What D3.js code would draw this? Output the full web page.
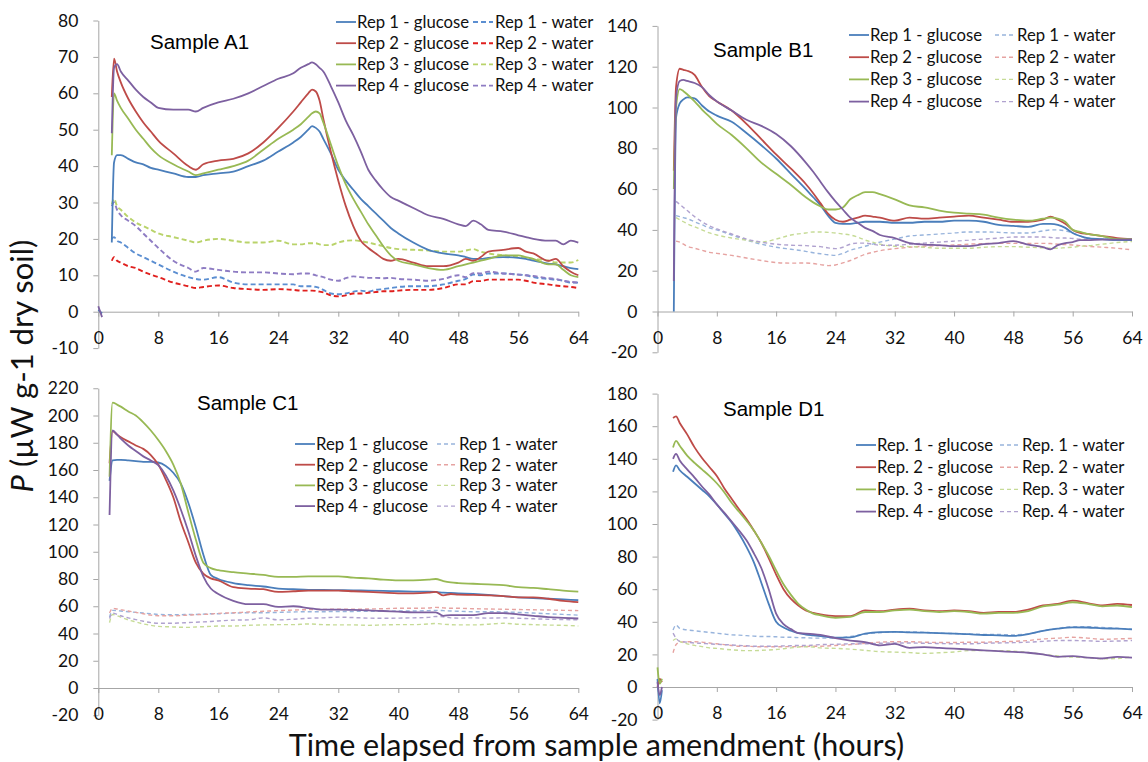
<!DOCTYPE html>
<html>
<head>
<meta charset="utf-8">
<script src="https://cdn.jsdelivr.net/npm/d3@7"></script>
<style>
  body { margin: 0; background: #fff; }
  svg { display: block; }
  .axis .domain, .axis .tick line { stroke: #a6a6a6; stroke-width: 1; }
  .axis .tick text { fill: #111; font-family: Lato, "Open Sans", sans-serif; font-size: 17.5px; }
</style>
</head>
<body>
<svg id="chart" width="1148" height="762"></svg>
<script>
// Heat output (µW per g dry soil) of four replicate soil samples after glucose or water amendment.

const hourTicks = [0, 8, 16, 24, 32, 40, 48, 56, 64];
const ticksA = [-10, 0, 10, 20, 30, 40, 50, 60, 70, 80];
const ticksB = [-20, 0, 20, 40, 60, 80, 100, 120, 140];
const ticksC = [-20, 0, 20, 40, 60, 80, 100, 120, 140, 160, 180, 200, 220];
const ticksD = [-20, 0, 20, 40, 60, 80, 100, 120, 140, 160, 180];

const repLabels = ["Rep 1", "Rep 2", "Rep 3", "Rep 4"];
const repLabelsD = ["Rep. 1", "Rep. 2", "Rep. 3", "Rep. 4"];

// ---- Sample A1 ----
const hoursA = [0, 0.5, 1, 1.8, 2.1, 2.5, 3, 4, 5, 6, 7, 8, 10, 12, 13, 14, 16, 18, 20, 22, 24, 26, 27, 28, 28.5, 29, 29.5, 30, 31, 32, 33, 34, 35, 36, 37, 38, 39, 40, 42, 44, 46, 48, 49, 50, 51, 52, 54, 56, 57, 58, 60, 61, 62, 63, 64];
const a1Glucose1 = [0.5, -0.5, null, 19, 41, 43, 43, 42, 41, 40.5, 39.5, 39, 38, 37, 37, 37.5, 38, 38.5, 40, 41.5, 44, 46.5, 48, 50, 51, 50.5, 49.5, 47.5, 43.5, 39, 36, 33.5, 31, 29, 27, 25, 23, 21.5, 19, 17, 16, 15.5, 15, 14.5, 14.5, 14.8, 15, 14.8, 14.5, 14, 13.2, 13, 12.5, 12, 11.7];
const a1Glucose2 = [null, null, null, 59, 69.5, 66, 63, 58.5, 55, 52, 49.5, 47, 43.5, 40, 39, 40.5, 41.5, 42, 43.5, 46.5, 50.5, 55, 57.5, 60, 61, 60.5, 58, 53, 44, 36, 29, 23.5, 19.5, 17.5, 16, 14.5, 14, 14.5, 13.5, 12.5, 12.5, 13.5, 14.5, 14, 15, 16.5, 17, 17.5, 16.5, 16, 14, 14.5, 12.5, 11, 10];
const a1Glucose3 = [null, null, null, 43, 60, 58, 56, 53, 50, 47.5, 45, 43, 40.5, 38.5, 37.5, 38, 39, 40, 41.5, 44.5, 47.5, 50, 51.5, 53.5, 54.5, 55, 54.5, 52, 46, 40, 35, 31, 27.5, 24, 21, 18, 15.5, 14, 13, 12, 11.5, 12.5, 13, 13.5, 14, 14.5, 15.5, 15.5, 15, 14.5, 13, 13, 11.5, 10, 9.5];
const a1Glucose4 = [1.5, -1.5, null, 49, 67, 68, 66, 63.5, 61, 59, 57.5, 56, 55.5, 55.5, 55, 56, 57.5, 58.5, 60, 62, 64, 65.5, 67, 68, 68.5, 68, 67, 66, 62, 57.5, 52.5, 48.5, 44, 39, 36, 33.5, 31.5, 30.5, 28.5, 26.5, 25.5, 24, 23.5, 25, 24, 22.5, 22, 21, 20.5, 20, 19.5, 19.5, 18.5, 19.5, 19];
const a1Water1 = [null, null, null, 20, 20.5, 19.5, 19, 17.5, 16, 15, 14, 13, 11, 9.5, 9, 8.8, 9.5, 8, 7.5, 7.5, 7.5, 7.5, 7, 7, 7, 6.8, 6.5, 6, 5, 4.8, 5, 5.5, 5.8, 5.5, 6, 6.2, 6.5, 6.8, 7, 7, 7.5, 8.5, 9, 10.2, 10, 10.5, 10.5, 10.2, 10, 9.5, 9, 8.8, 8.5, 8, 8];
const a1Water2 = [null, null, null, 14, 15, 14, 13.5, 12.5, 12, 11, 10.2, 9.5, 8, 7, 6.5, 6.8, 7.2, 6.5, 6.2, 6, 6.2, 6, 5.8, 5.8, 5.8, 5.7, 5.5, 5.3, 4.5, 4.2, 4.5, 5, 5, 5.2, 5.4, 5.6, 5.6, 5.8, 6, 6, 6.5, 7.5, 7.5, 8.4, 8.4, 8.8, 8.8, 8.8, 8.5, 8, 7.5, 7.2, 7, 6.8, 6.5];
const a1Water3 = [null, null, null, 29.5, 31, 29, 28, 26, 24.5, 23.5, 22.5, 21.5, 20.5, 19.5, 19, 19.5, 20, 19.5, 19, 19, 19.5, 18.5, 18.5, 18.8, 18.8, 18.8, 18.5, 18.3, 18.3, 19, 19.5, 19.6, 19.4, 19, 18.5, 18, 17.5, 17.2, 17, 16.8, 16.5, 16.5, 16.8, 17.2, 16.5, 16, 15.5, 15, 14.8, 14.5, 14, 13.5, 13.5, 13.5, 14.2];
const a1Water4 = [null, null, null, 29, 30, 28, 26.5, 25, 23.5, 21.5, 19.5, 17.5, 14, 12, 11, 12, 11.5, 11, 10.8, 10.8, 10.5, 10.3, 10.5, 10.5, 10.3, 10, 9.8, 9.5, 8.8, 8.5, 9.2, 9.7, 9.5, 9.3, 9.3, 9.2, 9.3, 9, 8.8, 8.5, 9, 10, 9.5, 10.6, 10.5, 11, 10.5, 10.2, 10, 9.8, 9.2, 9, 8.5, 8.2, 8];

// ---- Sample B1 ----
const hoursB = [0, 0.5, 1, 2.2, 2.5, 3, 3.5, 4, 5, 6, 7, 8, 10, 12, 14, 16, 18, 20, 21, 22, 23, 24, 25, 26, 27, 28, 29, 30, 32, 34, 36, 38, 40, 42, 44, 46, 48, 50, 52, 53, 54, 55, 56, 57, 58, 60, 62, 64];
const b1Glucose1 = [null, null, null, 0, 95, 102, 104, 105, 104.5, 101, 98, 96, 93, 87.5, 81.5, 75, 67.5, 60, 56, 52, 47, 43.5, 43, 43, 43.5, 44, 44, 44, 43.5, 43.5, 44, 44, 44.5, 44.5, 44, 42.5, 42, 41.5, 43, 43, 42.5, 41, 38.5, 37, 36, 35.5, 35, 35];
const b1Glucose2 = [null, null, null, 69, 110, 119, 118.5, 118, 116, 110, 105.5, 103, 98.5, 92, 84.5, 77, 70, 62.5, 58, 53, 48, 45, 44, 45, 46, 47, 46.5, 46, 44.5, 46, 45.5, 46, 46.5, 47, 46, 45, 44, 44, 45, 46.5, 45, 43, 40, 38.5, 38, 37, 36, 35.5];
const b1Glucose3 = [null, null, null, 60, 100, 109, 108, 106.5, 103, 99, 95.5, 92, 86.5, 80, 73, 67.5, 62, 56, 53.5, 51.5, 50, 50, 51, 55, 57, 58.5, 58.5, 57.5, 55, 52, 51, 49.5, 48.5, 48, 47.5, 46, 45, 44.5, 45.5, 46, 45.5, 44, 40, 39, 38, 37, 35.5, 35.5];
const b1Glucose4 = [null, null, null, 15, 105, 113, 113.5, 113, 112, 110, 106, 103, 98.5, 94, 91, 87, 81, 73, 68.5, 63.5, 58.5, 54, 50, 46, 43.5, 41, 39.5, 37.5, 36, 33.5, 32.8, 32.5, 32, 32, 33, 33.5, 34.5, 32.8, 31.5, 30.5, 32.5, 33.5, 34, 35, 35, 35.2, 35.2, 35.3];
const b1Water1 = [null, null, null, null, 47, 46.5, 46, 45.5, 44, 42.5, 41, 40, 37.5, 35, 33, 31.5, 30.5, 29.5, 28.8, 28.3, 27.8, 27.5, 28.5, 30, 31, 32, 33, 34, 35.5, 37, 37.5, 38, 38.5, 39, 39, 38.8, 38.5, 38.5, 39.5, 40, 40, 39.5, 38.5, 37, 36, 35.5, 35.2, 35];
const b1Water2 = [null, null, null, null, 34.5, 34, 33, 32, 31, 30, 29, 28.5, 27.5, 26.2, 25, 24, 23.7, 23.8, 23.5, 23, 22.5, 22.8, 23.8, 25, 26.5, 28, 29, 29.8, 30.8, 31.5, 32, 32.3, 32.6, 33, 33.3, 33.4, 33.4, 33.4, 33.4, 33.3, 33, 32.8, 32.6, 32.3, 32, 31.5, 31, 30.2];
const b1Water3 = [null, null, null, null, 46, 45, 44, 43, 41.5, 40, 38.5, 37.5, 36, 35, 34, 35.5, 37.5, 38.5, 39, 39, 38.8, 38.5, 38, 37.5, 36.5, 35, 34, 33, 32, 31.8, 31.5, 31, 31, 31, 31.5, 31.8, 31.8, 31.5, 31.2, 31, 31, 31.3, 31.5, 32, 32.2, 33, 33.8, 34.3];
const b1Water4 = [null, null, null, null, 54, 52.5, 51, 49.5, 46.5, 44, 42, 40.5, 38, 35.5, 34, 33, 32.5, 32.3, 32, 31.8, 31.2, 30.8, 31.5, 33, 33.5, 33.5, 33, 32.5, 32.5, 33, 33.5, 34, 34.5, 35, 35.5, 36, 36.5, 36.5, 36.5, 36.3, 36, 36, 35.8, 35.5, 35.5, 35.5, 35.5, 35.5];

// ---- Sample C1 ----
const hoursC = [1.5, 1.9, 2.5, 3, 4, 5, 6, 7, 8, 9, 10, 11, 12, 13, 14, 15, 16, 18, 20, 22, 24, 26, 28, 30, 32, 34, 36, 38, 40, 42, 44, 45, 46, 47, 48, 50, 52, 54, 56, 58, 60, 62, 64];
const c1Glucose1 = [152, 167, 167.5, 167.5, 167, 166.5, 166, 166, 165.5, 163, 158, 150, 136, 118, 98, 83, 80, 77, 75.5, 74.5, 73, 72.5, 72, 72, 71.8, 71.6, 71.5, 71.3, 71, 70.8, 70.7, 70.5, 70, 69.8, 69.5, 69, 68.3, 67.5, 66.5, 66, 65.5, 65, 64.5];
const c1Glucose2 = [165, 188.5, 186, 184, 181, 178, 175.5, 171, 164, 153, 140, 122, 107, 92, 84, 80.5, 79, 74, 73, 72.5, 70.5, 71, 71.5, 71.5, 71.5, 71, 70.5, 70, 69.5, 69.5, 70, 70.5, 68, 69, 68.5, 68.3, 68, 67.5, 66.5, 66.5, 65.5, 64, 63];
const c1Glucose3 = [155, 209.5, 208, 206.5, 203, 200, 195, 189, 182, 174, 164, 150, 129, 109, 92, 88, 86.5, 85, 84, 83, 81.5, 81.5, 82, 82, 82, 81, 80.5, 79.5, 79, 79, 79.5, 80, 78.5, 77.5, 77, 76.5, 76, 75.5, 74, 73.5, 72.5, 71.5, 70.8];
const c1Glucose4 = [127, 189, 186, 183, 178, 174, 170, 167, 163.5, 156, 145, 131, 115, 97, 82, 73, 69, 64, 61.5, 61.5, 59.5, 60, 58.7, 57.5, 57.5, 57.3, 57, 56.5, 56, 55.5, 55.5, 55.5, 53, 53.5, 53.5, 53.5, 55, 55, 54, 53, 52, 51.5, 51];
const c1Water1 = [52, 57, 56.8, 56.5, 56, 55.5, 55, 54.5, 54, 53.8, 53.8, 53.8, 54, 54, 54.2, 54.5, 54.5, 55, 55.2, 55.2, 55.5, 55.8, 56, 56, 56.2, 56.2, 56.3, 56.3, 56.5, 56.5, 56.8, 57, 56.8, 56.5, 56.3, 56, 56, 55.8, 55.5, 55, 54.5, 54, 53.5];
const c1Water2 = [55, 58.5, 58, 57.5, 56.5, 55.5, 54.5, 53.5, 53, 53, 53, 53.2, 53.5, 53.8, 54, 54.3, 54.8, 55.2, 55.8, 56.3, 56.8, 57.2, 57.5, 57.7, 57.8, 57.8, 58, 58.2, 58.5, 58.5, 58.7, 59.2, 58.8, 58.5, 58.5, 58.2, 58, 57.8, 57.6, 57.4, 57.2, 57, 56.8];
const c1Water3 = [48, 54, 53, 52, 50, 48.5, 47, 46, 45.2, 45, 44.8, 44.6, 44.5, 44.8, 45, 45.2, 45.5, 45.5, 46, 46.3, 46.5, 46.5, 47, 46.5, 46.3, 46.3, 46, 46.3, 46.5, 46.5, 47, 47.3, 46.8, 46.5, 46.3, 46.3, 46.8, 47.5, 46.8, 46.5, 46.2, 46, 45.5];
const c1Water4 = [51, 55, 54, 53, 51.5, 50.2, 49, 48, 47.5, 47.5, 47.5, 47.8, 48, 48.3, 48.5, 48.8, 49.2, 49.8, 50, 51.5, 50, 50.5, 51.2, 51.5, 52, 51.7, 51.3, 51.2, 51.3, 51.5, 51.8, 52.5, 52.2, 51.5, 51.3, 51.5, 51.3, 51.5, 51.2, 50.8, 50.5, 50.2, 50];

// ---- Sample D1 ----
const hoursD = [0, 0.3, 0.6, 1, 2.1, 2.5, 3, 4, 5, 6, 7, 8, 9, 10, 11, 12, 13, 14, 15, 16, 17, 18, 19, 20, 21, 22, 24, 26, 28, 30, 32, 34, 36, 38, 40, 42, 44, 46, 48, 50, 52, 54, 56, 58, 60, 62, 64];
const d1Glucose1 = [5, -10, -2, null, 132, 136, 133, 129, 125, 121, 117, 112, 106.5, 101, 94, 86, 76.5, 64, 51, 40, 36.5, 34.5, 33, 32.2, 31.7, 31.2, 30.3, 30.5, 32.8, 33.7, 33.8, 33.5, 33.3, 33, 32.8, 32.4, 31.9, 31.7, 31.4, 32.5, 34.5, 35.8, 36.6, 36.5, 36, 35.8, 35.4];
const d1Glucose2 = [0, 5, 3, null, 165, 166, 162, 155, 147, 140.5, 135, 129.5, 122, 115.5, 109, 103, 96, 88.5, 79, 69, 60, 54, 50, 47, 45.5, 44.5, 43.5, 43.5, 47, 46.5, 47.5, 48, 47, 46.5, 47, 46.5, 45.5, 46, 46, 47.5, 50, 51, 53, 51.5, 50, 51, 50.3];
const d1Glucose3 = [12, 2, 5, null, 147, 151, 148, 142, 137.5, 133.5, 129.5, 125, 119.5, 113, 107.5, 102, 96, 88.5, 80.5, 71.5, 63, 56.5, 51, 47.5, 45, 44, 42.5, 43, 46, 46, 47, 47.5, 46.5, 46, 46.5, 46, 45, 45.5, 45.5, 46.5, 49.5, 50.5, 52, 51, 49.5, 50, 49];
const d1Glucose4 = [3, -5, 0, null, 140, 143, 139, 133.5, 128.5, 123, 118, 112, 107, 101.5, 96, 90, 82, 73, 60, 45, 38.5, 35.5, 33, 32.8, 32.5, 32, 30, 28.5, 27.5, 25.5, 26.5, 24, 24.5, 24, 23.5, 23, 22.5, 22, 21.5, 21, 20, 18.5, 19, 18, 17.5, 18.5, 18];
const d1Water1 = [null, null, null, null, 35, 38, 36, 35, 34.5, 34, 33.5, 33, 32.5, 32, 31.8, 31.5, 31.2, 31, 31, 30.8, 30.5, 30.5, 30.3, 30.2, 30, 30, 30, 31, 32.5, 33.3, 33.8, 33.8, 33.5, 33, 32.8, 32.5, 32.3, 32.2, 32, 32.5, 34.5, 36, 37, 37, 36.5, 36, 35.5];
const d1Water2 = [null, null, null, null, 21, 26, 27.5, 27.8, 27.8, 27.5, 27, 26.5, 26, 25.5, 25, 25, 24.8, 24.7, 24.7, 24.7, 24.7, 24.8, 24.8, 24.8, 25, 25, 25.5, 26, 26.8, 27.5, 27.8, 27.8, 27.5, 27.3, 27.3, 27.5, 27.5, 27.8, 28, 28.5, 29.5, 30, 30.5, 30, 29.3, 29.5, 29.8];
const d1Water3 = [null, null, null, null, 28.5, 29.5, 28, 26.5, 25.5, 24.8, 24, 23.7, 23.2, 22.8, 22.5, 22.3, 22.3, 22.5, 22.7, 23, 23.5, 24, 24.5, 24.7, 24.5, 24, 23.7, 23.2, 22.5, 21.7, 21.4, 21.1, 20.6, 21, 21.5, 22.3, 22.3, 22.3, 22, 21.2, 20, 19, 18.3, 18, 17.3, 17.5, 18.5];
const d1Water4 = [null, null, null, null, 33, 30, 28, 27.5, 27, 26.8, 26.5, 26.2, 26, 25.8, 25.5, 25.3, 25, 25, 25, 25, 25.2, 25.3, 25.5, 25.5, 25.7, 26, 26.2, 26.5, 26.5, 26.8, 27, 27, 26.8, 26.7, 26.5, 26.5, 26.8, 27, 27.2, 27.5, 28, 28.5, 28.5, 28.3, 28, 28.2, 28.5];

// ---- styling ----
const glucoseColors = ["#4A7EBB", "#BE4B48", "#98B954", "#7D60A0"];
const waterColorsStrong = ["#5B8ED1", "#E0201E", "#B9D36A", "#8E7CC3"];
const waterColorsPale = ["#98B4DC", "#E6A3A1", "#C6DB96", "#B0A2CF"];

const panels = [
  {
    title: "Sample A1", hours: hoursA, ticks: ticksA, reps: repLabels,
    glucose: [a1Glucose1, a1Glucose2, a1Glucose3, a1Glucose4],
    water: [a1Water1, a1Water2, a1Water3, a1Water4],
    waterColors: waterColorsStrong, waterWidth: 1.9, waterDash: "5,3",
    frame: { left: 98.3, right: 578.3, top: 20.5, bottom: 348.1 },
    titlePos: { x: 150, y: 49 },
    legend: { x: 336, waterX: 473, y: 22, gap: 21.2 }
  },
  {
    title: "Sample B1", hours: hoursB, ticks: ticksB, reps: repLabels,
    glucose: [b1Glucose1, b1Glucose2, b1Glucose3, b1Glucose4],
    water: [b1Water1, b1Water2, b1Water3, b1Water4],
    waterColors: waterColorsPale, waterWidth: 1.4, waterDash: "4,3",
    frame: { left: 657.5, right: 1132, top: 25.9, bottom: 352.3 },
    titlePos: { x: 713, y: 57 },
    legend: { x: 849, waterX: 995, y: 35, gap: 22.2 }
  },
  {
    title: "Sample C1", hours: hoursC, ticks: ticksC, reps: repLabels,
    glucose: [c1Glucose1, c1Glucose2, c1Glucose3, c1Glucose4],
    water: [c1Water1, c1Water2, c1Water3, c1Water4],
    waterColors: waterColorsPale, waterWidth: 1.4, waterDash: "4,3",
    frame: { left: 98.3, right: 578.3, top: 388.25, bottom: 715.25 },
    titlePos: { x: 197, y: 410 },
    legend: { x: 295, waterX: 437, y: 444, gap: 20.7 }
  },
  {
    title: "Sample D1", hours: hoursD, ticks: ticksD, reps: repLabelsD,
    glucose: [d1Glucose1, d1Glucose2, d1Glucose3, d1Glucose4],
    water: [d1Water1, d1Water2, d1Water3, d1Water4],
    waterColors: waterColorsPale, waterWidth: 1.4, waterDash: "4,3",
    frame: { left: 657.5, right: 1132, top: 393.6, bottom: 719.6 },
    titlePos: { x: 723, y: 416 },
    legend: { x: 856, waterX: 1000, y: 445, gap: 22.2 }
  }
];

const svg = d3.select("#chart");
svg.append("rect").attr("width", 1148).attr("height", 762).attr("fill", "#fff");

const uiFont = 'Lato, "Open Sans", sans-serif';

function drawPanel(p) {
  const x = d3.scaleLinear().domain([0, 64]).range([p.frame.left, p.frame.right]);
  const y = d3.scaleLinear()
    .domain([p.ticks[0], p.ticks[p.ticks.length - 1]])
    .range([p.frame.bottom, p.frame.top]);
  const g = svg.append("g");

  // vertical axis sits at hour 0, horizontal axis at zero output
  g.append("g")
    .attr("class", "axis")
    .attr("transform", `translate(${x(0)},0)`)
    .call(d3.axisLeft(y).tickValues(p.ticks).tickSize(5).tickSizeOuter(0)
      .tickPadding(15).tickFormat(d => String(d)));

  g.append("g")
    .attr("class", "axis")
    .attr("transform", `translate(0,${y(0)})`)
    .call(d3.axisBottom(x).tickValues(hourTicks).tickSize(5).tickSizeOuter(0)
      .tickPadding(15).tickFormat(d => String(d)));

  const line = d3.line()
    .defined(d => d[1] != null)
    .x(d => x(d[0]))
    .y(d => y(d[1]))
    .curve(d3.curveMonotoneX);

  const toPoints = vals => p.hours.map((t, i) => [t, vals[i]]);

  // water controls underneath, glucose-amended replicates on top
  p.water.forEach((vals, i) => {
    g.append("path")
      .datum(toPoints(vals))
      .attr("d", line)
      .attr("fill", "none")
      .attr("stroke", p.waterColors[i])
      .attr("stroke-width", p.waterWidth)
      .attr("stroke-dasharray", p.waterDash);
  });
  p.glucose.forEach((vals, i) => {
    g.append("path")
      .datum(toPoints(vals))
      .attr("d", line)
      .attr("fill", "none")
      .attr("stroke", glucoseColors[i])
      .attr("stroke-width", 1.8)
      .attr("stroke-linejoin", "round");
  });

  // panel title
  g.append("text")
    .attr("x", p.titlePos.x)
    .attr("y", p.titlePos.y)
    .attr("font-family", '"Liberation Sans", Arial, sans-serif')
    .attr("font-size", 20.5)
    .attr("fill", "#000")
    .text(p.title);

  // legend: glucose column and water column
  const lg = g.append("g").attr("font-family", uiFont).attr("font-size", 16.7).attr("fill", "#111");
  p.reps.forEach((rep, i) => {
    const ry = p.legend.y + i * p.legend.gap;
    lg.append("line")
      .attr("x1", p.legend.x).attr("x2", p.legend.x + 20)
      .attr("y1", ry).attr("y2", ry)
      .attr("stroke", glucoseColors[i]).attr("stroke-width", 1.8);
    lg.append("text")
      .attr("x", p.legend.x + 21).attr("y", ry).attr("dy", "0.35em")
      .text(`${rep} - glucose`);
    lg.append("line")
      .attr("x1", p.legend.waterX).attr("x2", p.legend.waterX + 20)
      .attr("y1", ry).attr("y2", ry)
      .attr("stroke", p.waterColors[i]).attr("stroke-width", p.waterWidth)
      .attr("stroke-dasharray", p.waterDash);
    lg.append("text")
      .attr("x", p.legend.waterX + 22).attr("y", ry).attr("dy", "0.35em")
      .text(`${rep} - water`);
  });
}

panels.forEach(drawPanel);

// shared axis titles
svg.append("text")
  .attr("x", 596.5)
  .attr("y", 756)
  .attr("text-anchor", "middle")
  .attr("font-family", uiFont)
  .attr("font-size", 30.5)
  .attr("fill", "#111")
  .text("Time elapsed from sample amendment (hours)");

const yTitle = svg.append("text")
  .attr("transform", "translate(33,366) rotate(-90)")
  .attr("text-anchor", "middle")
  .attr("font-family", uiFont)
  .attr("font-size", 31)
  .attr("fill", "#111");
yTitle.append("tspan").attr("font-style", "italic").text("P");
yTitle.append("tspan").text(" (µW g-1 dry soil)");
</script>
</body>
</html>
